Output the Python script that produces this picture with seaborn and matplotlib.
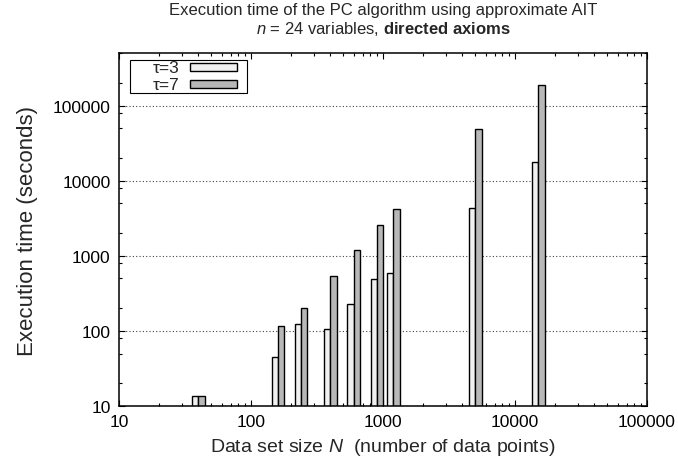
import matplotlib
matplotlib.use("Agg")
import matplotlib.pyplot as plt
import pandas as pd
import seaborn as sns
from matplotlib.patches import Rectangle
from matplotlib.ticker import LogLocator, FuncFormatter, NullFormatter

# Data set sizes and measured execution times (seconds)
sizes = [40, 160, 240, 400, 600, 900, 1200, 5000, 15000]
time_tau3 = [13.7, 45, 124, 105, 229, 489, 588, 4330, 17700]
time_tau7 = [13.6, 115, 203, 541, 1178, 2590, 4230, 49000, 186600]
tau_labels = ["τ=3", "τ=7"]
bar_colors = ["#f0f0f0", "#b8b8b8"]

df = pd.DataFrame({
    "N": sizes + sizes,
    "time": time_tau3 + time_tau7,
    "tau": [tau_labels[0]] * len(sizes) + [tau_labels[1]] * len(sizes),
})

sns.set_style("ticks")
plt.rcParams["font.family"] = ["Liberation Sans", "DejaVu Sans"]
plt.rcParams["mathtext.fontset"] = "custom"
plt.rcParams["mathtext.rm"] = "Liberation Sans"
plt.rcParams["mathtext.it"] = "Liberation Sans:italic"
plt.rcParams["mathtext.bf"] = "Liberation Sans:bold"

fig = plt.figure(figsize=(6.78, 4.64), dpi=100)
ax = fig.add_axes([0.1755, 0.1228, 0.7788, 0.7608])

# Bars on a log-spaced N axis; value axis switched to log afterwards
sns.barplot(
    data=df, x="N", y="time", hue="tau", hue_order=tau_labels,
    native_scale=True, log_scale=(True, False), palette=bar_colors,
    edgecolor="black", linewidth=1.0, width=0.76, errorbar=None,
    dodge=True, legend=False, ax=ax, saturation=1,
)
ax.set_yscale("log")

ax.set_xlim(10, 1e5)
ax.set_ylim(10, 5e5)

fmt = FuncFormatter(lambda v, p: f"{int(round(v))}")
ax.xaxis.set_major_locator(LogLocator(base=10, numticks=10))
ax.xaxis.set_minor_locator(LogLocator(base=10, subs=range(2, 10), numticks=20))
ax.yaxis.set_major_locator(LogLocator(base=10, numticks=10))
ax.yaxis.set_minor_locator(LogLocator(base=10, subs=(2, 5, 8), numticks=20))
ax.xaxis.set_major_formatter(fmt)
ax.yaxis.set_major_formatter(fmt)
ax.xaxis.set_minor_formatter(NullFormatter())
ax.yaxis.set_minor_formatter(NullFormatter())

ax.tick_params(which="both", direction="in", top=True, right=True,
               width=0.8, colors="black")
ax.tick_params(which="major", labelsize=12.5, length=4.5, pad=6)
ax.tick_params(which="minor", length=2.2)
for s in ax.spines.values():
    s.set_linewidth(1.1)
    s.set_color("black")

ax.set_axisbelow(True)
ax.yaxis.grid(True, which="major", linestyle=(0, (1, 2)), color="#444444", linewidth=0.8)
ax.xaxis.grid(False)

ax.set_xlabel("Data set size $N$  (number of data points)", fontsize=14, labelpad=5)
ax.set_ylabel("Execution time (seconds)", fontsize=16, labelpad=11)

fig.text(0.565, 0.9763, "Execution time of the PC algorithm using approximate AIT",
         ha="center", va="center", fontsize=12)
fig.text(0.565, 0.9375, "$n$ = 24 variables, $\\mathbf{directed\\ axioms}$",
         ha="center", va="center", fontsize=12)

# Key box: label text right-aligned, followed by a filled sample swatch
tr = ax.transAxes
ax.add_patch(Rectangle((0.0208, 0.887), 0.2216, 0.093, transform=tr,
                       facecolor="white", edgecolor="black", linewidth=0.8,
                       zorder=5, clip_on=False))
key_y = [0.960, 0.911]
for label, color, yc in zip(tau_labels, bar_colors, key_y):
    ax.text(0.1155, yc, label, transform=tr, ha="right", va="center",
            fontsize=12.5, zorder=6)
    ax.add_patch(Rectangle((0.1345, yc - 0.0115), 0.089, 0.023, transform=tr,
                           facecolor=color, edgecolor="black", linewidth=1.0,
                           zorder=6))

fig.savefig("out.png", dpi=100)
